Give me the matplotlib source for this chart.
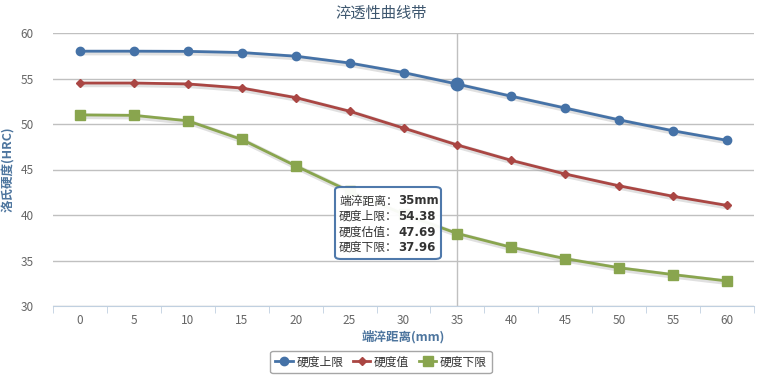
import matplotlib.pyplot as plt
import matplotlib.patheffects as pe
from matplotlib.patches import FancyBboxPatch

plt.rcParams['font.family'] = ['Noto Sans CJK SC', 'DejaVu Sans']

distance = [0, 5, 10, 15, 20, 25, 30, 35, 40, 45, 50, 55, 60]
upper = [58.0, 58.0, 57.98, 57.85, 57.45, 56.7, 55.65, 54.38, 53.05, 51.75, 50.45, 49.25, 48.2]
estimate = [54.5, 54.5, 54.4, 53.95, 52.9, 51.4, 49.55, 47.69, 46.0, 44.5, 43.2, 42.05, 41.05]
lower = [51.0, 50.95, 50.35, 48.3, 45.4, 42.6, 40.1, 37.96, 36.45, 35.2, 34.2, 33.45, 32.75]
names = ['硬度上限', '硬度值', '硬度下限']
colors = ['#4572A7', '#AA4643', '#89A54E']
markers = ['o', 'D', 's']
msizes = [6, 4.5, 6.5]

fig = plt.figure(figsize=(7.62, 3.82), dpi=100)
ax = fig.add_axes([53 / 762, 1 - 306 / 382, 701 / 762, 273 / 382])

shadow = [pe.SimpleLineShadow(offset=(1, -1), shadow_color='#999999', alpha=0.3, linewidth=4), pe.Normal()]
for vals, name, c, m, ms in zip([upper, estimate, lower], names, colors, markers, msizes):
    ax.plot(distance, vals, color=c, lw=2, path_effects=shadow, zorder=3)
    ax.plot(distance, vals, color=c, lw=2, ls='none', marker=m, ms=ms, mec=c, zorder=3.5)
    ax.plot([], [], color=c, lw=2, marker=m, ms=ms, mec=c, label=name)

# hovered point
ax.axvline(35, color='#c0c0c0', lw=1, zorder=1)
ax.plot([35], [upper[7]], marker='o', ms=9, color=colors[0], zorder=4)

ax.set_xlim(-2.5, 62.5)
ax.set_ylim(30, 60)
ax.set_xticks(distance)
ax.set_xticks([d + 2.5 for d in [-5] + distance], minor=True)
ax.set_yticks([30, 35, 40, 45, 50, 55, 60])
ax.grid(axis='y', color='#c0c0c0', lw=1)
ax.set_axisbelow(True)
for s in ['top', 'right', 'left']:
    ax.spines[s].set_visible(False)
ax.spines['bottom'].set_color('#c0d0e0')
ax.tick_params(axis='x', which='major', length=0, pad=6, labelsize=8.5, labelcolor='#666666')
ax.tick_params(axis='x', which='minor', length=5, color='#c0d0e0')
ax.tick_params(axis='y', length=0, pad=14, labelsize=8.5, labelcolor='#666666')

ax.set_xlabel('端淬距离(mm)', fontsize=9, fontweight='bold', color='#4d759e', labelpad=2)
ax.set_ylabel('洛氏硬度(HRC)', fontsize=9, fontweight='bold', color='#4d759e', labelpad=4)
fig.text(0.5, 1 - 13 / 382, '淬透性曲线带', ha='center', va='center', fontsize=11, color='#3e576f')

# tooltip
box = FancyBboxPatch((335 / 762, 1 - 259 / 382), 106 / 762, 72 / 382,
                     boxstyle='round,pad=0,rounding_size=0.008', transform=fig.transFigure,
                     fc='white', ec='#4572A7', lw=1.5, alpha=0.95, zorder=5)
fig.patches.append(box)
tip_keys = ['端淬距离：', '硬度上限：', '硬度估值：', '硬度下限：']
tip_vals = ['35mm', '54.38', '47.69', '37.96']
for i, (k, v) in enumerate(zip(tip_keys, tip_vals)):
    y = 1 - (201 + i * 15.5) / 382
    fig.text(339 / 762, y, k, ha='left', va='center', fontsize=8.5, color='#333333', zorder=6)
    fig.text(398 / 762, y, v, ha='left', va='center', fontsize=8.5, fontweight='bold',
             color='#333333', family=['DejaVu Sans'], zorder=6)

leg = fig.legend(loc='center', bbox_to_anchor=(0.5, 1 - 362 / 382), ncol=3, fontsize=8.5,
                 frameon=True, fancybox=True, edgecolor='#909090', handlelength=1.5,
                 handletextpad=0.3, columnspacing=0.8, borderpad=0.4)
leg.get_frame().set_linewidth(1)
for txt in leg.get_texts():
    txt.set_color('#333333')

fig.savefig('out.png', dpi=100)
